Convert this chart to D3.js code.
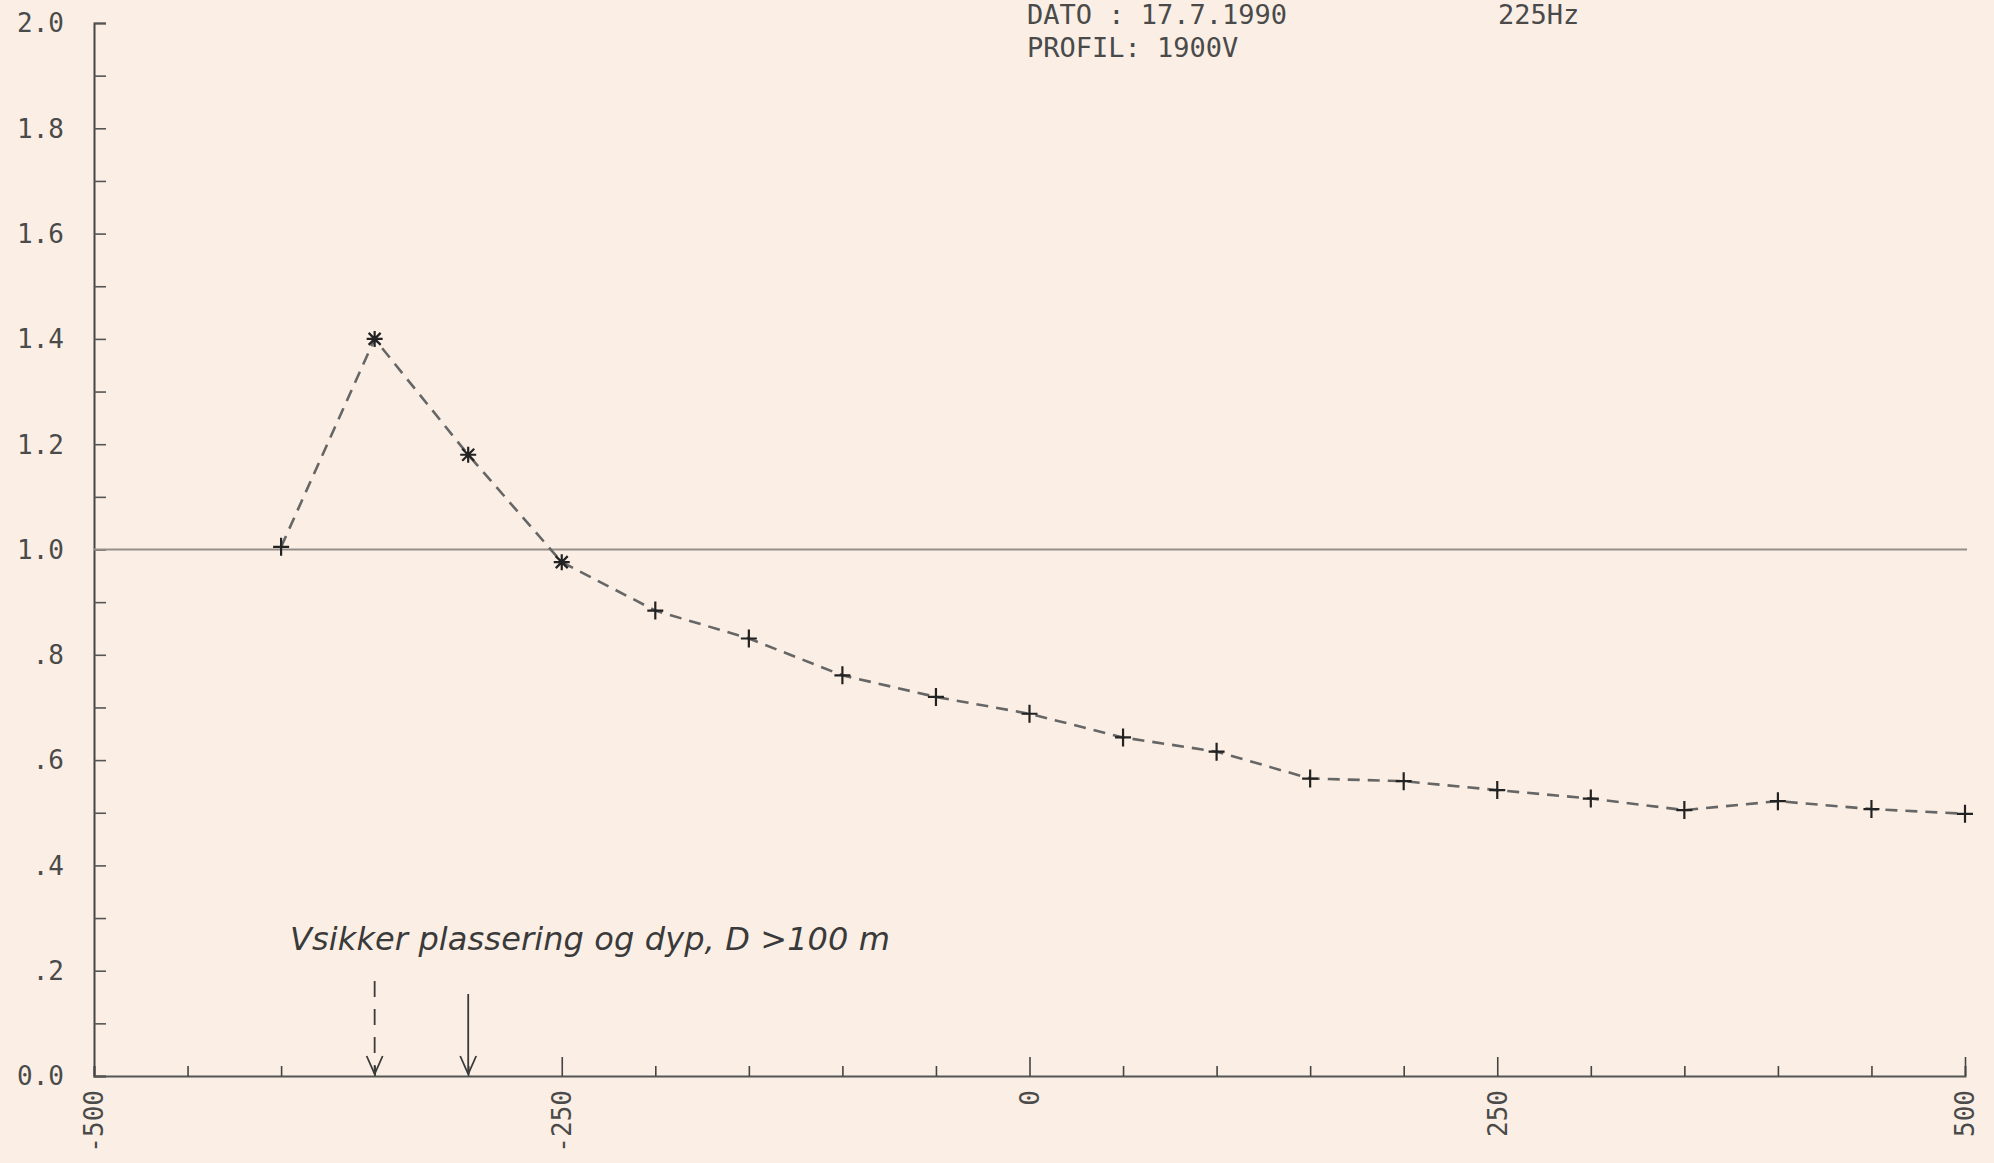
<!DOCTYPE html>
<html>
<head>
<meta charset="utf-8">
<script src="https://cdn.jsdelivr.net/npm/d3@7"></script>
<style>
  body { margin: 0; background: #fbefe5; }
  svg { display: block; }
  .lbl { font-family: "DejaVu Sans Mono", monospace; fill: #4a4a4a; }
</style>
</head>
<body>
<div id="chart"></div>
<script>
// data
var positions = [-400, -350, -300, -250, -200, -150, -100, -50, 0, 50, 100, 150, 200, 250, 300, 350, 400, 450, 500];
var values = [1.005, 1.40, 1.18, 0.976, 0.884, 0.831, 0.761, 0.720, 0.688, 0.643, 0.616, 0.565, 0.560, 0.543, 0.527, 0.505, 0.522, 0.507, 0.498];
var markers = ["+", "*", "*", "*", "+", "+", "+", "+", "+", "+", "+", "+", "+", "+", "+", "+", "+", "+", "+"];
var yTickLabels = ["0.0", ".2", ".4", ".6", ".8", "1.0", "1.2", "1.4", "1.6", "1.8", "2.0"];
var xTickLabels = [-500, -250, 0, 250, 500];
var arrowsAt = [-350, -300];
var headerLines = ["DATO : 17.7.1990", "PROFIL: 1900V"];
var freqLabel = "225Hz";
var noteText = "Vsikker plassering og dyp, D >100 m";

var svgWidth = 1994;
var svgHeight = 1163;

var svg = d3.select("#chart")
    .append("svg")
    .attr("width", svgWidth)
    .attr("height", svgHeight);

svg.append("rect")
    .attr("width", svgWidth)
    .attr("height", svgHeight)
    .attr("fill", "#fbefe5");

// scales
var x = d3.scaleLinear().domain([-500, 500]).range([94, 1965]);
var y = d3.scaleLinear().domain([0, 2]).range([1076, 23]);

// y axis: ticks every 0.1, pointing inwards
var leftAxis = d3.axisRight(y)
    .tickValues(d3.range(0, 2.001, 0.1))
    .tickSize(12)
    .tickFormat("");
var gy = svg.append("g")
    .attr("transform", `translate(${x(-500)},0)`)
    .call(leftAxis);
gy.select(".domain").attr("stroke", "#444").attr("stroke-width", 2);
gy.selectAll(".tick line").attr("stroke", "#555").attr("stroke-width", 1.6);

svg.selectAll(".ylab")
    .data(yTickLabels)
    .enter()
    .append("text")
    .attr("class", "lbl")
    .attr("x", 64)
    .attr("y", (d, i) => y(i * 0.2))
    .attr("dy", "0.36em")
    .attr("text-anchor", "end")
    .attr("font-size", 26)
    .text(d => d);

// x axis: ticks every 50 pointing up, longer at labelled values
var bottomAxis = d3.axisTop(x)
    .tickValues(d3.range(-500, 501, 50))
    .tickSize(10)
    .tickFormat("");
var gx = svg.append("g")
    .attr("transform", `translate(0,${y(0)})`)
    .call(bottomAxis);
gx.select(".domain").attr("stroke", "#555").attr("stroke-width", 2);
gx.selectAll(".tick line")
    .attr("stroke", "#444")
    .attr("stroke-width", 1.6)
    .attr("y2", d => (d % 250 === 0 && d !== -500) ? -19 : -10);

svg.selectAll(".xlab")
    .data(xTickLabels)
    .enter()
    .append("text")
    .attr("class", "lbl")
    .attr("transform", d => `translate(${x(d)},${y(0) + 14}) rotate(-90)`)
    .attr("dy", "0.36em")
    .attr("text-anchor", "end")
    .attr("font-size", 26)
    .text(d => d);

// reference line at 1.0
svg.append("line")
    .attr("x1", x(-500))
    .attr("x2", 1967)
    .attr("y1", y(1))
    .attr("y2", y(1))
    .attr("stroke", "#948f8a")
    .attr("stroke-width", 2.2);

// dashed profile
var line = d3.line()
    .x((d, i) => x(positions[i]))
    .y(d => y(d));
svg.append("path")
    .datum(values)
    .attr("d", line)
    .attr("fill", "none")
    .attr("stroke", "#666")
    .attr("stroke-width", 2.6)
    .attr("stroke-dasharray", "12,8");

// markers
var mk = svg.append("g").selectAll("g")
    .data(values)
    .enter()
    .append("g")
    .attr("transform", (d, i) => `translate(${x(positions[i])},${y(d)})`);
mk.append("path")
    .attr("d", (d, i) => markers[i] === "*"
        ? "M-8,0H8M0,-8V8M-6,-6L6,6M-6,6L6,-6"
        : "M-8,0H8M0,-9V9")
    .attr("stroke", "#222")
    .attr("stroke-width", 2.2)
    .attr("fill", "none");

// header text
svg.selectAll(".head")
    .data(headerLines)
    .enter()
    .append("text")
    .attr("class", "lbl")
    .attr("x", 1027)
    .attr("y", (d, i) => 24 + i * 33)
    .attr("font-size", 27)
    .text(d => d);
svg.append("text")
    .attr("class", "lbl")
    .attr("x", 1498)
    .attr("y", 24)
    .attr("font-size", 27)
    .text(freqLabel);

// handwritten note and arrows
svg.append("text")
    .attr("x", 290)
    .attr("y", 950)
    .attr("font-family", "DejaVu Sans")
    .attr("font-style", "italic")
    .attr("font-size", 32)
    .attr("textLength", 600)
    .attr("fill", "#3a3a3a")
    .text(noteText);

var arrows = svg.append("g").selectAll("g")
    .data(arrowsAt)
    .enter()
    .append("g")
    .attr("transform", d => `translate(${x(d)},0)`);
arrows.append("line")
    .attr("x1", 0).attr("x2", 0)
    .attr("y1", (d, i) => i === 0 ? 981 : 994)
    .attr("y2", y(0) - 2)
    .attr("stroke", "#3a3a3a")
    .attr("stroke-width", 1.8)
    .attr("stroke-dasharray", (d, i) => i === 0 ? "16,12" : null);
arrows.append("path")
    .attr("d", `M-8,${y(0) - 20}L0,${y(0) - 2}L8,${y(0) - 20}`)
    .attr("stroke", "#3a3a3a")
    .attr("stroke-width", 1.8)
    .attr("fill", "none");
</script>
</body>
</html>
